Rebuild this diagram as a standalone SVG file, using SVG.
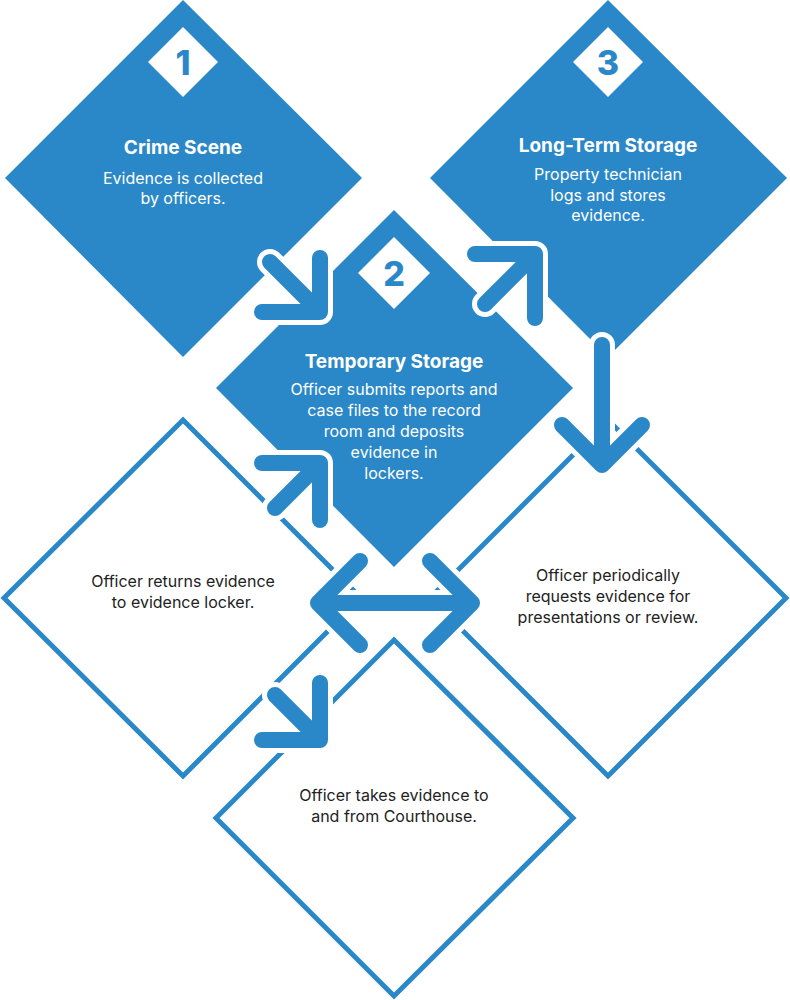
<svg xmlns="http://www.w3.org/2000/svg" width="790" height="1000" viewBox="0 0 790 1000">
<style>
.fill{fill:#2a88c8}
.out{fill:#fff;stroke:#2a88c8;stroke-width:5}
.badge{fill:#fff}
.num{font-family:Inter,"Liberation Sans",sans-serif;font-weight:800;font-size:34px;fill:#2a88c8;text-anchor:middle}
.t{font-family:Inter,"Liberation Sans",sans-serif;font-weight:700;font-size:19px;fill:#fff;text-anchor:middle}
.b{font-family:Inter,"Liberation Sans",sans-serif;font-size:16px;fill:#fff;text-anchor:middle}
.d{font-family:Inter,"Liberation Sans",sans-serif;font-size:16px;fill:#222;text-anchor:middle}
.halo{fill:none;stroke:#fff;stroke-width:26;stroke-linecap:round;stroke-linejoin:round}
.arr{fill:none;stroke:#2a88c8;stroke-width:16;stroke-linecap:round;stroke-linejoin:round}
</style>
<defs>
<g id="a1"><path d="M320 258V312H262M320 312L270 262"/></g>
<g id="a2"><path d="M475 254H535V318M535 254L485 304"/></g>
<g id="a3"><path d="M602 345V465M562 425L602 465L642 425"/></g>
<g id="a4"><path d="M262 463H320V520M320 463L275 508"/></g>
<g id="a5"><path d="M318 603H472M360 561L318 603L360 645M430 561L472 603L430 645"/></g>
<g id="a6"><path d="M320 683V740H262M320 740L275 695"/></g>
</defs>
<g id="node-left"><polygon class="out" points="183,420 361,598 183,776 4,598"/><text class="d" x="183" y="587">Officer returns evidence</text><text class="d" x="183" y="608">to evidence locker.</text></g>
<g id="node-right"><polygon class="out" points="608,420 786,598 608,776 430,598"/><text class="d" x="608" y="581">Officer periodically</text><text class="d" x="608" y="602">requests evidence for</text><text class="d" x="608" y="623">presentations or review.</text></g>
<g id="node-bottom"><polygon class="out" points="394,640 573,818 394,996 216,818"/><text class="d" x="394" y="801">Officer takes evidence to</text><text class="d" x="394" y="822">and from Courthouse.</text></g>
<g id="node-1"><polygon class="fill" points="183,0 362,178 183,357 5,178"/><polygon class="badge" points="183,27 218,62 183,97 148,62"/><text class="num" x="183" y="75">1</text><text class="t" x="183" y="154">Crime Scene</text><text class="b" x="183" y="184">Evidence is collected</text><text class="b" x="183" y="204">by officers.</text></g>
<g id="node-3"><polygon class="fill" points="608,0 787,178 608,357 430,178"/><polygon class="badge" points="608,27 643,62 608,97 573,62"/><text class="num" x="608" y="75">3</text><text class="t" x="608" y="152">Long-Term Storage</text><text class="b" x="608" y="180">Property technician</text><text class="b" x="608" y="201">logs and stores</text><text class="b" x="608" y="221">evidence.</text></g>
<g id="node-2"><polygon class="fill" points="394,210 573,388 394,567 216,388"/><polygon class="badge" points="394,237 430,273 394,309 358,273"/><text class="num" x="394" y="286">2</text><text class="t" x="394" y="368">Temporary Storage</text><text class="b" x="394" y="395">Officer submits reports and</text><text class="b" x="394" y="416">case files to the record</text><text class="b" x="394" y="437">room and deposits</text><text class="b" x="394" y="458">evidence in</text><text class="b" x="394" y="479">lockers.</text></g>
<g id="connectors">
<g class="halo"><use href="#a1"/><use href="#a2"/><use href="#a3"/><use href="#a4"/><use href="#a5"/><use href="#a6"/></g>
<g class="arr"><use href="#a1"/><use href="#a2"/><use href="#a3"/><use href="#a4"/><use href="#a5"/><use href="#a6"/></g>
</g>
</svg>
